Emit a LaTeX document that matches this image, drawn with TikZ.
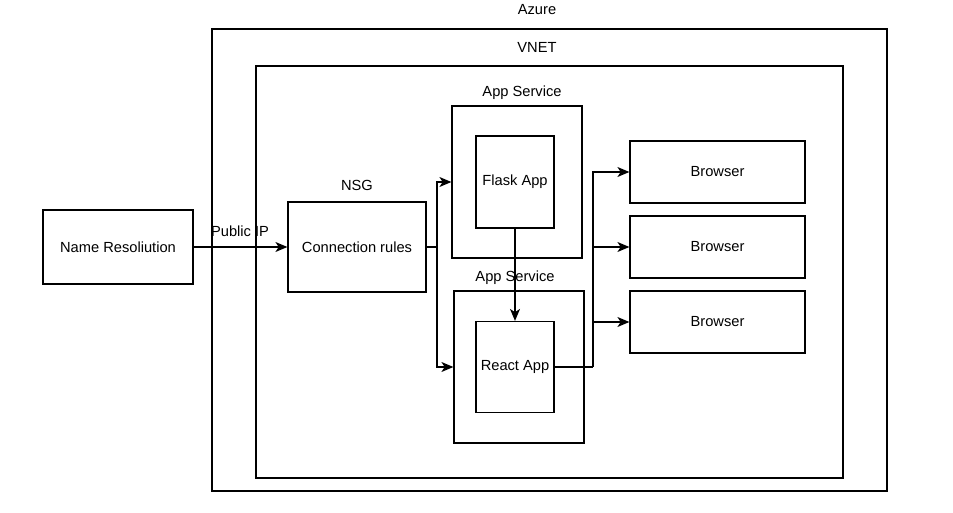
\documentclass[tikz,border=0pt]{standalone}
\usepackage{fontspec}
\setmainfont{Liberation Sans}
\usetikzlibrary{arrows.meta}

\tikzset{
	box/.style={draw, line width=0.9pt, inner sep=0pt, align=center},
	lbl/.style={inner sep=0pt},
	arr/.style={line width=0.9pt, -{Stealth[length=9pt, width=7.5pt, inset=2.5pt]}},
	wire/.style={line width=0.9pt}
}

\begin{document}
\begin{tikzpicture}[x=0.75pt, y=-0.75pt, font=\fontsize{11}{13}\selectfont]
			%%%%% START %%%%%
			
			\useasboundingbox (0, 0) rectangle (953, 513);
			
			\node[box, minimum width=506.25pt, minimum height=346.5pt] (azure) at (549.5, 260) {};
			\node[lbl] (azurelbl) at (537, 10) {Azure};
			
			\node[box, minimum width=440.25pt, minimum height=309pt] (vnet) at (549.5, 272) {};
			\node[lbl] (vnetlbl) at (537, 47) {VNET};
			
			\node[box, minimum width=112.5pt, minimum height=55.5pt] (dns) at (118, 247) {Name Resoliution};
			
			\node[box, minimum width=103.5pt, minimum height=67.5pt] (nsg) at (357, 247) {Connection rules};
			\node[lbl] (nsglbl) at (357, 185) {NSG};
			
			\node[box, minimum width=97.5pt, minimum height=114pt] (svcflask) at (517, 182) {};
			\node[lbl] (svcflasklbl) at (522, 93) {App Service};
			\node[box, minimum width=58.5pt, minimum height=69pt] (flask) at (515, 182) {Flask App};
			
			\node[box, minimum width=97.5pt, minimum height=114pt] (svcreact) at (519, 367) {};
			\node[lbl] (svcreactlbl) at (515, 278) {App Service};
			\node[box, minimum width=58.5pt, minimum height=68.25pt] (react) at (515, 367) {React App};
			
			\node[box, minimum width=131.25pt, minimum height=46.5pt] (browsera) at (717.5, 172) {Browser};
			\node[box, minimum width=131.25pt, minimum height=46.5pt] (browserb) at (717.5, 247) {Browser};
			\node[box, minimum width=131.25pt, minimum height=46.5pt] (browserc) at (717.5, 322) {Browser};
			
			\coordinate (split) at (437, 247);
			\coordinate (merge) at (593, 367);
			
			\draw[arr] (dns) -- (nsg);
			\node[lbl] (publicip) at (240, 231) {Public IP};
			
			\draw[wire] (nsg.east) -- (split);
			\draw[arr] (split) |- (svcflask);
			\draw[arr] (split) |- (svcreact);
			
			\draw[arr] (flask) -- (react);
			
			\draw[wire] (react.east) -- (merge);
			\draw[arr] (merge) |- (browsera);
			\draw[arr] (merge) |- (browserb);
			\draw[arr] (merge) |- (browserc);
			
			%%%%% END %%%%%
		\end{tikzpicture}
\end{document}
